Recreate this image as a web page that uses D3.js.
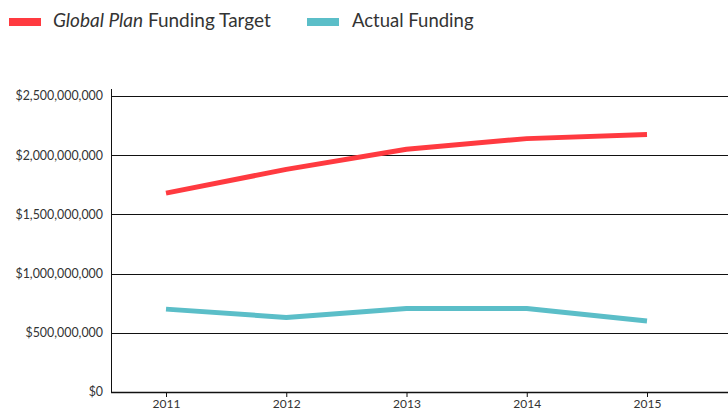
<!DOCTYPE html>
<html>
<head>
<meta charset="utf-8">
<script src="https://cdn.jsdelivr.net/npm/d3@7"></script>
<style>
  body { margin: 0; background: #fff; }
  text { font-family: "Lato", "Noto Sans", sans-serif; fill: #333; }
  .axis path, .axis line { stroke: #111; }
  .grid line { stroke: #111; }
</style>
</head>
<body>
<svg id="chart"></svg>
<script>
// chart data
const years = [2011, 2012, 2013, 2014, 2015];
const targetFunding = [1680000000, 1880000000, 2050000000, 2140000000, 2175000000];
const actualFunding = [700000000, 630000000, 705000000, 705000000, 600000000];
const yTicks = [0, 500000000, 1000000000, 1500000000, 2000000000, 2500000000];

const width = 728, height = 411;
const margin = {top: 96, right: 0, bottom: 19, left: 111};

const svg = d3.select('#chart')
    .attr('width', width)
    .attr('height', height);

const innerW = width - margin.left - margin.right;
const innerH = height - margin.top - margin.bottom;

const chart = svg.append('g')
    .attr('transform', `translate(${margin.left},${margin.top})`);

// scales
const xScale = d3.scaleLinear()
    .domain([2011, 2015])
    .range([55, 536]);

const yScale = d3.scaleLinear()
    .domain([0, 2500000000])
    .range([innerH, 0]);

// horizontal gridlines
chart.append('g')
    .attr('class', 'grid')
    .selectAll('line')
    .data(yTicks.slice(1))
    .join('line')
    .attr('x1', 0)
    .attr('x2', innerW)
    .attr('y1', d => Math.round(yScale(d)) + 0.5)
    .attr('y2', d => Math.round(yScale(d)) + 0.5);

// y axis
const yAxis = d3.axisLeft(yScale)
    .tickValues(yTicks)
    .tickSize(0)
    .tickPadding(8)
    .tickFormat(d => '$' + d3.format(',')(d));

const yAxisG = chart.append('g')
    .attr('class', 'axis y-axis')
    .call(yAxis);
yAxisG.select('.domain').remove();
yAxisG.selectAll('text').style('font-size', '12.4px');

chart.append('line')
    .attr('x1', 0.5).attr('x2', 0.5)
    .attr('y1', -7).attr('y2', innerH)
    .attr('stroke', '#111');

// x axis
const xAxis = d3.axisBottom(xScale)
    .tickValues(years)
    .tickSize(5)
    .tickPadding(2)
    .tickFormat(d3.format('d'));

const xAxisG = chart.append('g')
    .attr('class', 'axis x-axis')
    .attr('transform', `translate(0,${innerH})`)
    .call(xAxis);
xAxisG.select('.domain').attr('d', `M0,0.5H${innerW}`).attr('stroke-width', 1.5);
xAxisG.selectAll('text').style('font-size', '12px');

// lines
const line = d3.line()
    .x((d, i) => xScale(years[i]))
    .y(d => yScale(d));

chart.append('path')
    .datum(targetFunding)
    .attr('fill', 'none')
    .attr('stroke', '#ff3a40')
    .attr('stroke-width', 5)
    .attr('stroke-linejoin', 'round')
    .attr('d', line);

chart.append('path')
    .datum(actualFunding)
    .attr('fill', 'none')
    .attr('stroke', '#5bbec8')
    .attr('stroke-width', 5)
    .attr('stroke-linejoin', 'round')
    .attr('d', line);

// legend
const legend = svg.append('g');
legend.append('rect')
    .attr('x', 9).attr('y', 18).attr('width', 32).attr('height', 8)
    .attr('fill', '#ff3a40');
const t1 = legend.append('text')
    .attr('x', 53).attr('y', 27)
    .style('font-size', '19px');
t1.append('tspan').style('font-style', 'italic').text('Global Plan');
t1.append('tspan').text(' Funding Target');

legend.append('rect')
    .attr('x', 307).attr('y', 18).attr('width', 32).attr('height', 8)
    .attr('fill', '#5bbec8');
legend.append('text')
    .attr('x', 352).attr('y', 27)
    .style('font-size', '18.5px')
    .text('Actual Funding');
</script>
</body>
</html>
